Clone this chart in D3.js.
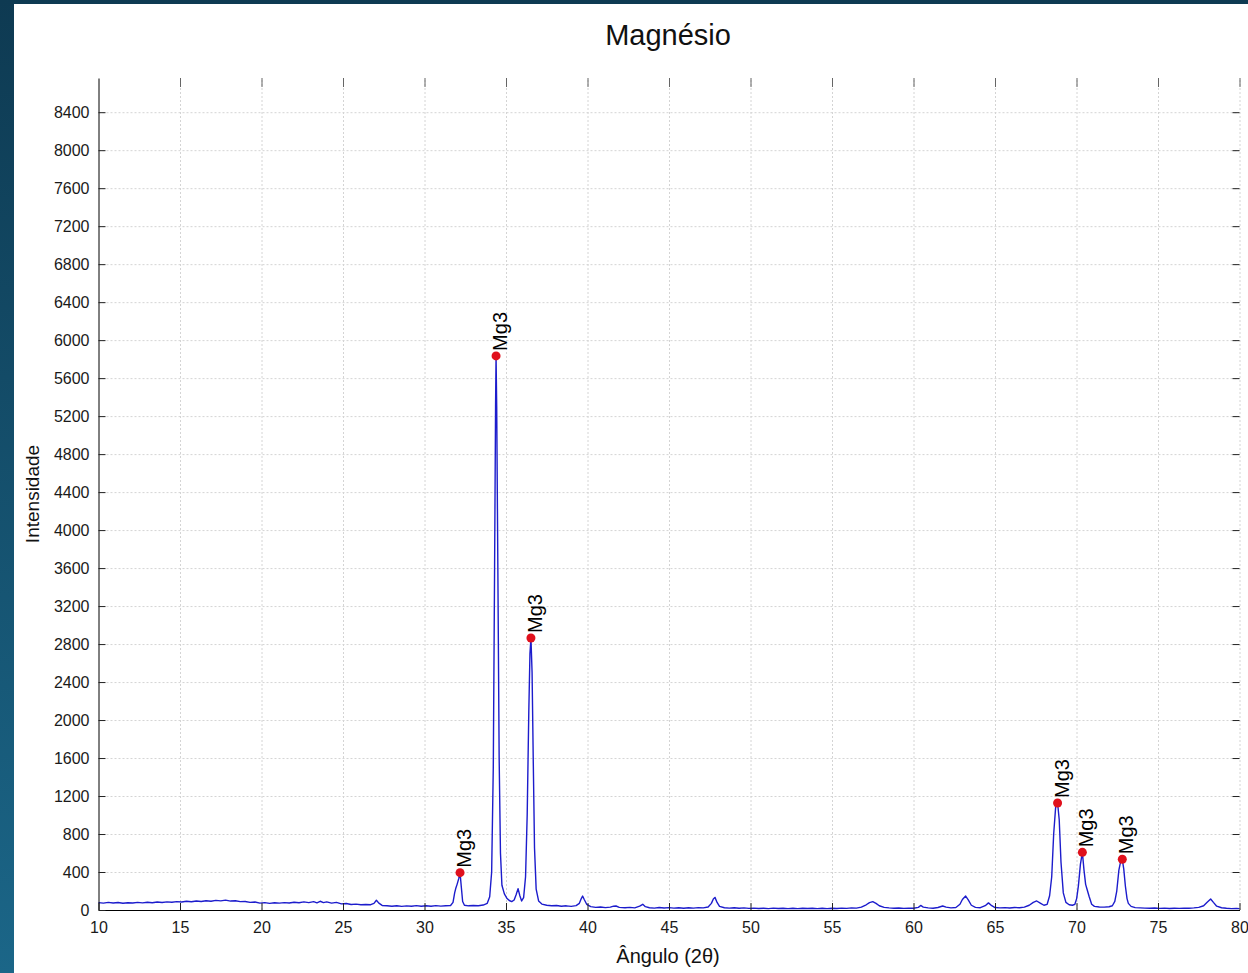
<!DOCTYPE html>
<html>
<head>
<meta charset="utf-8">
<script src="https://cdn.jsdelivr.net/npm/d3@7"></script>
<style>
  body { margin: 0; padding: 0; overflow: hidden; }
  svg { display: block; }
  .tick text { font-family: "Liberation Sans", Arial, sans-serif; font-size: 16px; fill: #1a1a1a; }
</style>
</head>
<body>
<div id="chart"></div>
<script>
// XRD pattern of magnesium

// x tick values (angle 2theta) and y tick values (intensity)
var xTicks = d3.range(10, 81, 5);
var yTicks = d3.range(0, 8401, 400);

// pattern: [angle, intensity]
var pattern = [
  [10.0,78],[10.3,72],[10.6,80],[10.9,74],[11.2,79],[11.5,71],[11.8,77],[12.1,73],[12.4,80],[12.7,75],
  [13.0,82],[13.3,76],[13.6,84],[13.9,79],[14.2,86],[14.5,81],[14.8,88],[15.1,84],[15.4,92],[15.7,87],
  [16.0,95],[16.3,90],[16.6,98],[16.9,92],[17.2,101],[17.5,96],[17.8,104],[18.1,94],[18.4,97],[18.7,88],
  [19.0,90],[19.3,80],[19.6,84],[19.9,72],[20.2,78],[20.5,70],[20.8,76],[21.1,72],[21.4,78],[21.7,74],
  [22.0,82],[22.3,76],[22.6,85],[22.9,78],[23.2,88],[23.4,75],[23.6,92],[23.8,78],[24.0,86],[24.3,72],
  [24.6,80],[24.9,64],[25.2,68],[25.5,58],[25.8,62],[26.1,55],[26.4,58],[26.7,56],[26.9,70],[27.05,102],
  [27.2,72],[27.4,48],[27.7,44],[28.0,40],[28.3,45],[28.6,38],[28.9,43],[29.2,40],[29.5,46],[29.8,39],
  [30.1,44],[30.4,40],[30.7,46],[31.0,41],[31.3,45],[31.6,48],[31.75,80],[31.85,180],[31.93,235],[32.0,270],
  [32.1,330],[32.18,393],[32.26,240],[32.34,90],[32.45,50],[32.7,44],[33.0,47],[33.3,45],[33.6,52],[33.85,70],
  [34.0,140],[34.12,400],[34.22,1500],[34.3,3600],[34.36,5300],[34.39,5834],[34.43,5300],[34.5,3600],[34.58,1600],[34.66,600],
  [34.75,260],[34.9,170],[35.05,125],[35.2,100],[35.35,88],[35.5,105],[35.62,160],[35.74,225],[35.85,150],[35.96,95],
  [36.08,130],[36.2,350],[36.3,1000],[36.4,2100],[36.47,2700],[36.53,2864],[36.6,2500],[36.67,1600],[36.75,650],[36.85,220],
  [37.0,95],[37.2,62],[37.5,50],[37.8,45],[38.1,48],[38.4,40],[38.7,44],[39.0,38],[39.3,46],[39.5,70],
  [39.62,120],[39.7,147],[39.8,110],[39.95,60],[40.2,35],[40.5,28],[40.8,32],[41.1,25],[41.4,30],[41.6,40],
  [41.75,42],[41.95,28],[42.3,24],[42.6,28],[42.9,22],[43.2,40],[43.39,60],[43.55,35],[43.8,24],[44.1,20],
  [44.4,26],[44.7,21],[45.0,25],[45.3,20],[45.6,24],[45.9,19],[46.2,23],[46.5,20],[46.8,25],[47.1,22],
  [47.4,32],[47.6,70],[47.72,115],[47.82,133],[47.95,80],[48.1,38],[48.4,24],[48.7,20],[49.0,23],[49.3,18],
  [49.6,22],[49.9,17],[50.2,20],[50.5,16],[50.8,19],[51.1,15],[51.4,20],[51.7,16],[52.0,19],[52.3,15],
  [52.6,18],[52.9,14],[53.2,19],[53.5,16],[53.8,18],[54.1,14],[54.4,18],[54.7,15],[55.0,19],[55.3,16],
  [55.6,20],[55.9,17],[56.2,22],[56.5,20],[56.8,30],[57.1,55],[57.3,78],[57.5,88],[57.7,70],[57.9,45],
  [58.2,28],[58.5,22],[58.8,18],[59.1,21],[59.4,17],[59.7,20],[60.0,18],[60.3,28],[60.44,48],[60.6,30],
  [60.9,22],[61.2,19],[61.5,26],[61.79,42],[62.0,30],[62.3,22],[62.6,26],[62.85,60],[63.0,110],[63.2,147],
  [63.35,110],[63.55,50],[63.8,28],[64.1,24],[64.4,45],[64.6,75],[64.8,45],[65.0,26],[65.3,22],[65.6,25],
  [65.9,21],[66.2,26],[66.5,24],[66.8,30],[67.1,50],[67.35,80],[67.56,95],[67.8,70],[68.0,50],[68.2,60],
  [68.35,150],[68.48,350],[68.6,800],[68.72,1080],[68.84,1127],[68.94,950],[69.05,500],[69.19,180],[69.35,80],[69.55,55],
  [69.75,50],[69.9,60],[70.01,120],[70.12,260],[70.24,480],[70.36,607],[70.46,420],[70.56,270],[70.66,210],[70.78,140],
  [70.93,60],[71.1,38],[71.4,32],[71.7,30],[72.0,34],[72.2,45],[72.35,90],[72.47,200],[72.6,420],[72.72,520],
  [72.81,534],[72.9,430],[73.0,250],[73.1,120],[73.18,70],[73.35,38],[73.6,25],[73.9,22],[74.2,20],[74.5,18],
  [74.8,21],[75.1,17],[75.4,20],[75.7,16],[76.0,19],[76.3,17],[76.6,20],[76.9,18],[77.2,22],[77.5,28],
  [77.8,45],[78.0,80],[78.23,116],[78.4,80],[78.6,40],[78.9,24],[79.2,18],[79.5,15],[79.8,17],[80.0,14]
];

// identified peaks (red markers with labels)
var peakAngles = [32.18, 34.39, 36.53, 68.84, 70.36, 72.81];
var peakIntensities = [393, 5834, 2864, 1127, 607, 534];
var peakLabels = ["Mg3", "Mg3", "Mg3", "Mg3", "Mg3", "Mg3"];

var chartTitle = "Magnésio";
var xTitle = "Ângulo (2θ)";
var yTitle = "Intensidade";

//page and plot geometry
var W = 1248, H = 973;
var plot = {left: 98.5, right: 1239.5, top: 78, bottom: 910};

var svg = d3.select("#chart").append("svg")
  .attr("width", W)
  .attr("height", H);

//dark frame behind the white chart panel
var grad = svg.append("defs").append("linearGradient")
  .attr("id", "frame")
  .attr("x1", 0).attr("y1", 0).attr("x2", 0).attr("y2", 1);
grad.append("stop").attr("offset", "0%").attr("stop-color", "#0e3a52");
grad.append("stop").attr("offset", "100%").attr("stop-color", "#1b6688");

svg.append("rect").attr("width", W).attr("height", H).attr("fill", "url(#frame)");
svg.append("rect").attr("x", 14).attr("y", 4).attr("width", W - 14).attr("height", H - 4).attr("fill", "#fff");

var x = d3.scaleLinear().domain([10, 80]).range([plot.left, plot.right]);
var y = d3.scaleLinear().domain([0, 8760]).range([plot.bottom, plot.top]);

//grid lines (dotted)
svg.append("g")
  .attr("transform", "translate(0," + plot.bottom + ")")
  .call(d3.axisBottom(x).tickValues(xTicks.slice(1)).tickSize(-(plot.bottom - plot.top)).tickFormat(""))
  .call(g => g.select(".domain").remove())
  .call(g => g.selectAll("line").attr("stroke", "#d4d4d4").attr("stroke-dasharray", "2,2"));

svg.append("g")
  .attr("transform", "translate(" + plot.left + ",0)")
  .call(d3.axisLeft(y).tickValues(yTicks.slice(1)).tickSize(-(plot.right - plot.left)).tickFormat(""))
  .call(g => g.select(".domain").remove())
  .call(g => g.selectAll("line").attr("stroke", "#d4d4d4").attr("stroke-dasharray", "2,2"));

//top and right ticks (no line)
svg.append("g")
  .attr("transform", "translate(0," + plot.top + ")")
  .call(d3.axisTop(x).tickValues(xTicks.slice(1)).tickSize(-9).tickFormat(""))
  .call(g => g.select(".domain").remove())
  .call(g => g.selectAll("line").attr("stroke", "#666"));

svg.append("g")
  .attr("transform", "translate(" + plot.right + ",0)")
  .call(d3.axisRight(y).tickValues(yTicks.slice(1)).tickSize(-7).tickFormat(""))
  .call(g => g.select(".domain").remove())
  .call(g => g.selectAll("line").attr("stroke", "#222"));

//the curve
var line = d3.line()
  .x(d => x(d[0]))
  .y(d => y(d[1]));

svg.append("path")
  .datum(pattern)
  .attr("d", line)
  .attr("fill", "none")
  .attr("stroke", "#1c1ccc")
  .attr("stroke-width", 1.4)
  .attr("stroke-linejoin", "round");

//bottom axis
svg.append("g")
  .attr("transform", "translate(0," + plot.bottom + ")")
  .call(d3.axisBottom(x).tickValues(xTicks).tickSizeInner(-7).tickSizeOuter(0).tickPadding(12).tickFormat(d3.format("d")))
  .call(g => g.select(".domain").attr("stroke", "#000"))
  .call(g => g.selectAll("line").attr("stroke", "#222"));

//left axis, line runs to the top of the plot
svg.append("g")
  .attr("transform", "translate(" + plot.left + ",0)")
  .call(d3.axisLeft(y).tickValues(yTicks).tickSizeInner(-7).tickSizeOuter(0).tickPadding(9).tickFormat(d3.format("d")))
  .call(g => g.select(".domain").attr("stroke", "#000"))
  .call(g => g.selectAll("line").attr("stroke", "#222"));

//peak markers and labels
var peaks = peakAngles.map((a, i) => ({a: a, v: peakIntensities[i], label: peakLabels[i]}));

svg.selectAll(".peak")
  .data(peaks).enter()
  .append("circle")
    .attr("class", "peak")
    .attr("cx", d => x(d.a))
    .attr("cy", d => y(d.v))
    .attr("r", 4.5)
    .attr("fill", "#e0101c");

svg.selectAll(".peaklabel")
  .data(peaks).enter()
  .append("text")
    .attr("class", "peaklabel")
    .attr("transform", d => "translate(" + (x(d.a) + 11) + "," + (y(d.v) - 5) + ") rotate(-90)")
    .attr("font-family", "Liberation Sans, Arial, sans-serif")
    .attr("font-size", 20)
    .attr("fill", "#000")
    .text(d => d.label);

//titles
svg.append("text")
  .attr("x", 668).attr("y", 45)
  .attr("text-anchor", "middle")
  .attr("font-family", "Liberation Sans, Arial, sans-serif")
  .attr("font-size", 29)
  .attr("fill", "#111")
  .text(chartTitle);

svg.append("text")
  .attr("x", 668).attr("y", 963)
  .attr("text-anchor", "middle")
  .attr("font-family", "Liberation Sans, Arial, sans-serif")
  .attr("font-size", 20)
  .attr("fill", "#111")
  .text(xTitle);

svg.append("text")
  .attr("transform", "translate(39,494) rotate(-90)")
  .attr("text-anchor", "middle")
  .attr("font-family", "Liberation Sans, Arial, sans-serif")
  .attr("font-size", 19)
  .attr("fill", "#111")
  .text(yTitle);
</script>
</body>
</html>
